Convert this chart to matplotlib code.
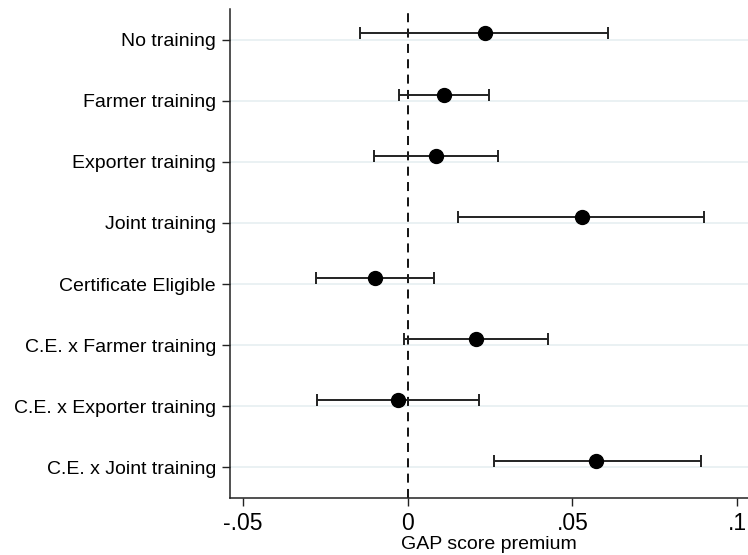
import numpy as np
import matplotlib.pyplot as plt

plt.rcParams['font.family'] = ['Liberation Sans', 'DejaVu Sans']

labels = ["No training", "Farmer training", "Exporter training", "Joint training",
          "Certificate Eligible", "C.E. x Farmer training", "C.E. x Exporter training",
          "C.E. x Joint training"]
coef = [0.0235, 0.0111, 0.0086, 0.0528, -0.0098, 0.0208, -0.0028, 0.0571]
ci_lo = [-0.0144, -0.0026, -0.0101, 0.0153, -0.0277, -0.0011, -0.0273, 0.0262]
ci_hi = [0.0608, 0.0247, 0.0274, 0.0898, 0.0080, 0.0425, 0.0217, 0.0889]
xticks = [-0.05, 0, 0.05, 0.1]
xticklabels = ["-.05", "0", ".05", ".1"]

fig = plt.figure(figsize=(7.48, 5.55), dpi=100)
ax = fig.add_axes([230/748, 57/555, 518/748, 489/555])

pos = np.arange(1, len(labels) + 1)
offset = 0.1  # points sit a little above their category line
coef = np.array(coef)
err = [coef - np.array(ci_lo), np.array(ci_hi) - coef]

for p in pos:
    ax.axhline(p, color='#e6eff1', lw=1.2, zorder=0)
ax.axvline(0, color='black', ls=(0, (5, 3.5)), lw=1.3, zorder=1)
ax.errorbar(coef, pos - offset, xerr=err, fmt='o', color='black', ms=10,
            ecolor='#222222', elinewidth=1.4, capsize=4, capthick=1.4, zorder=3)

ax.set_ylim(8.5, 0.5)
ax.set_xlim(-0.0538, 0.1032)
ax.set_yticks(pos)
ax.set_yticklabels(labels, fontsize=14)
ax.set_xticks(xticks)
ax.set_xticklabels(xticklabels, fontsize=16.5)
ax.set_xlabel("GAP score premium", fontsize=14, labelpad=1)
ax.tick_params(axis='both', length=6, width=1, direction='out', color='#222222')
ax.tick_params(axis='y', pad=4)
ax.tick_params(axis='x', pad=4)
for s in ['top', 'right']:
    ax.spines[s].set_visible(False)
for s in ['left', 'bottom']:
    ax.spines[s].set_color('#222222')
    ax.spines[s].set_linewidth(1.1)

fig.savefig('out.png', dpi=100)
